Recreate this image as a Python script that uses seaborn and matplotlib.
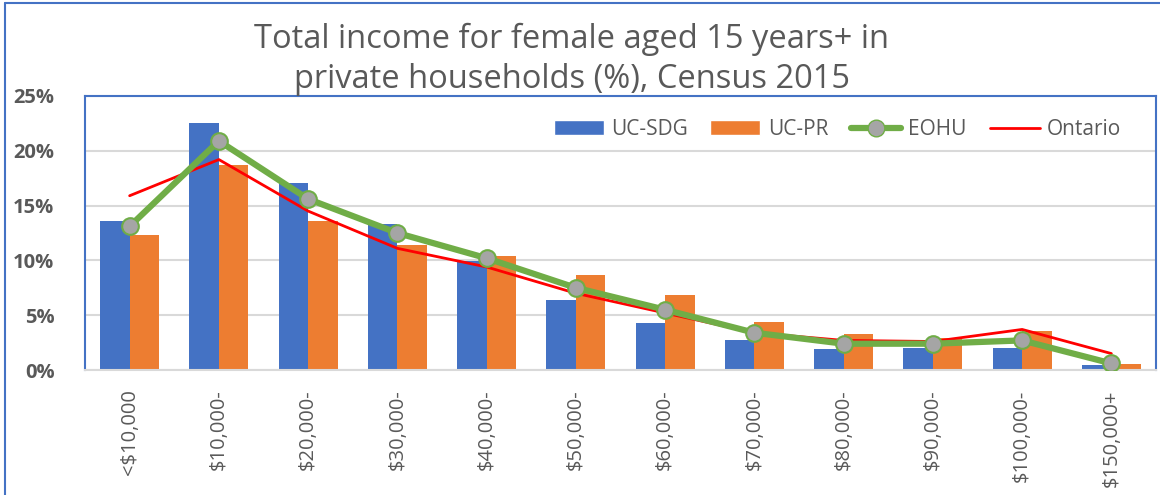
import matplotlib
matplotlib.use('Agg')
import matplotlib.pyplot as plt
from matplotlib.lines import Line2D
from matplotlib.patches import Patch
import numpy as np
import pandas as pd
import seaborn as sns

categories = ['<$10,000', '$10,000-', '$20,000-', '$30,000-', '$40,000-', '$50,000-',
              '$60,000-', '$70,000-', '$80,000-', '$90,000-', '$100,000-', '$150,000+']
uc_sdg = [13.6, 22.5, 17.1, 13.3, 9.9, 6.4, 4.3, 2.7, 1.9, 2.0, 2.0, 0.5]
uc_pr = [12.3, 18.7, 13.6, 11.4, 10.4, 8.7, 6.8, 4.4, 3.3, 2.9, 3.6, 0.55]
eohu = [13.1, 20.9, 15.6, 12.5, 10.2, 7.5, 5.5, 3.4, 2.4, 2.4, 2.7, 0.6]
ontario = [15.9, 19.2, 14.5, 11.1, 9.4, 7.0, 5.2, 3.4, 2.7, 2.6, 3.7, 1.5]

BLUE = '#4472C4'
ORANGE = '#ED7D31'
GREEN = '#70AD47'
GREY_MARK = '#A5A5A5'
RED = '#FF0000'
TXT = '#595959'
FRAME = '#4472C4'

sns.set_style('white')
plt.rcParams['font.family'] = ['Open Sans', 'DejaVu Sans']

bars = pd.DataFrame({
    'income': categories * 2,
    'pct': uc_sdg + uc_pr,
    'area': ['UC-SDG'] * len(categories) + ['UC-PR'] * len(categories),
})
lines = pd.DataFrame({'pos': np.arange(len(categories)), 'eohu': eohu, 'ontario': ontario})

fig = plt.figure(figsize=(11.6, 4.95), dpi=100)
ax = fig.add_axes([85 / 1160, 125 / 495, 1071 / 1160, 274 / 495])

sns.barplot(data=bars, x='income', y='pct', hue='area', palette=[BLUE, ORANGE],
            width=0.66, linewidth=0, saturation=1, ax=ax, legend=False, zorder=2)
sns.lineplot(data=lines, x='pos', y='ontario', color=RED, linewidth=2, ax=ax, zorder=3)
sns.lineplot(data=lines, x='pos', y='eohu', color=GREEN, linewidth=4.5, marker='o',
             markersize=12, markerfacecolor=GREY_MARK, markeredgecolor=GREEN,
             markeredgewidth=1.5, ax=ax, zorder=4)

ax.set_xlim(-0.5, len(categories) - 0.5)
ax.set_ylim(0, 25)
ax.set_yticks([0, 5, 10, 15, 20, 25])
ax.set_yticklabels([f'{v}%' for v in [0, 5, 10, 15, 20, 25]], fontweight='bold')
ax.set_xlabel('')
ax.set_ylabel('')
ax.yaxis.grid(True, color='#D9D9D9', linewidth=1.5, zorder=0)
ax.set_axisbelow(True)
ax.tick_params(axis='y', length=0, pad=22, labelsize=14.5, labelcolor=TXT)
ax.tick_params(axis='x', length=0, pad=14, labelsize=14.5, labelcolor=TXT, labelrotation=90)

for side in ['left', 'top', 'right']:
    ax.spines[side].set_color(FRAME)
    ax.spines[side].set_linewidth(1.5)
ax.spines['bottom'].set_color('#D9D9D9')
ax.spines['bottom'].set_linewidth(1.5)

handles = [
    Patch(facecolor=BLUE, label='UC-SDG'),
    Patch(facecolor=ORANGE, label='UC-PR'),
    Line2D([], [], color=GREEN, linewidth=4.5, marker='o', markersize=12,
           markerfacecolor=GREY_MARK, markeredgecolor=GREEN, label='EOHU'),
    Line2D([], [], color=RED, linewidth=2, label='Ontario'),
]
leg = ax.legend(handles=handles, loc='upper right', bbox_to_anchor=(0.985, 0.985), ncol=4,
                frameon=False, fontsize=15, handlelength=2.4, handleheight=0.7,
                columnspacing=1.1, handletextpad=0.35)
for t in leg.get_texts():
    t.set_color(TXT)

fig.text(0.493, 0.88, 'Total income for female aged 15 years+ in\nprivate households (%), Census 2015',
         ha='center', va='center', fontsize=23.5, color=TXT, linespacing=1.25)

# outer chart frame
fig.add_artist(Line2D([5 / 1160, 5 / 1160], [0, 492 / 495], color=FRAME, linewidth=1.5))
fig.add_artist(Line2D([5 / 1160, 1], [492 / 495, 492 / 495], color=FRAME, linewidth=1.5))

fig.savefig('out.png', dpi=100)
